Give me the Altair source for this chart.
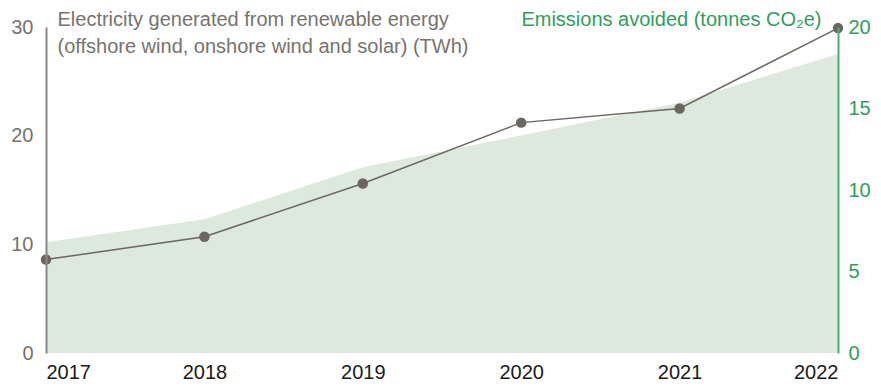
import altair as alt
import pandas as pd

years = [2017, 2018, 2019, 2020, 2021, 2022]
electricity_twh = [8.6, 10.7, 15.6, 21.2, 22.5, 29.9]
emissions_avoided = [6.8, 8.2, 11.4, 13.35, 15.35, 18.35]

df = pd.DataFrame({"year": years, "twh": electricity_twh, "co2": emissions_avoided})

FONT = "Liberation Sans"
GRAY = "#77736d"
GREEN = "#2f9e5a"
FS = 20

x = alt.X("year:Q", scale=alt.Scale(domain=[2017, 2022], nice=False, zero=False),
          axis=alt.Axis(values=years, format="d", title=None, domain=False, ticks=False,
                        grid=False, labelFlush=True, labelFontSize=FS, labelColor="#1a1a1a",
                        labelFont=FONT, labelPadding=9))

area = alt.Chart(df).mark_area(color="#dde9dc", opacity=1).encode(
    x=x,
    y=alt.Y("co2:Q", scale=alt.Scale(domain=[0, 20], nice=False),
            axis=alt.Axis(orient="right", values=[0, 5, 10, 15, 20], grid=False, ticks=False,
                          domainColor="#4caf6e", domainWidth=2, labelColor=GREEN,
                          labelFontSize=FS, labelFont=FONT, labelPadding=10, zindex=1,
                          title="Emissions avoided (tonnes CO₂e)", titleAngle=0,
                          titleAlign="right", titleBaseline="middle", titleX=-17, titleY=-8,
                          titleColor=GREEN, titleFontSize=FS, titleFontWeight="normal",
                          titleFont=FONT)),
)

base = alt.Chart(df).encode(
    x=x,
    y=alt.Y("twh:Q", scale=alt.Scale(domain=[0, 30], nice=False),
            axis=alt.Axis(orient="left", values=[0, 10, 20, 30], grid=False, ticks=False,
                          domainColor="#8c8882", domainWidth=2, labelColor=GRAY,
                          labelFontSize=FS, labelFont=FONT, labelPadding=13, zindex=1,
                          title=["Electricity generated from renewable energy",
                                 "(offshore wind, onshore wind and solar) (TWh)"],
                          titleAngle=0, titleAlign="left", titleBaseline="middle",
                          titleX=11, titleY=-8, titleLineHeight=27,
                          titleColor=GRAY, titleFontSize=FS, titleFontWeight="normal",
                          titleFont=FONT)),
)

line = base.mark_line(color="#6b6760", strokeWidth=1.5)
points = base.mark_point(color="#6b6760", filled=True, opacity=1, size=110)

chart = alt.layer(area, line + points).resolve_scale(y="independent").properties(
    width=792, height=326,
    autosize=alt.AutoSizeParams(type="none"),
    padding={"left": 38, "top": 19, "right": 35, "bottom": 28},
).configure_view(stroke=None)

chart.save("out.html", embed_options={"renderer": "svg", "actions": False})
